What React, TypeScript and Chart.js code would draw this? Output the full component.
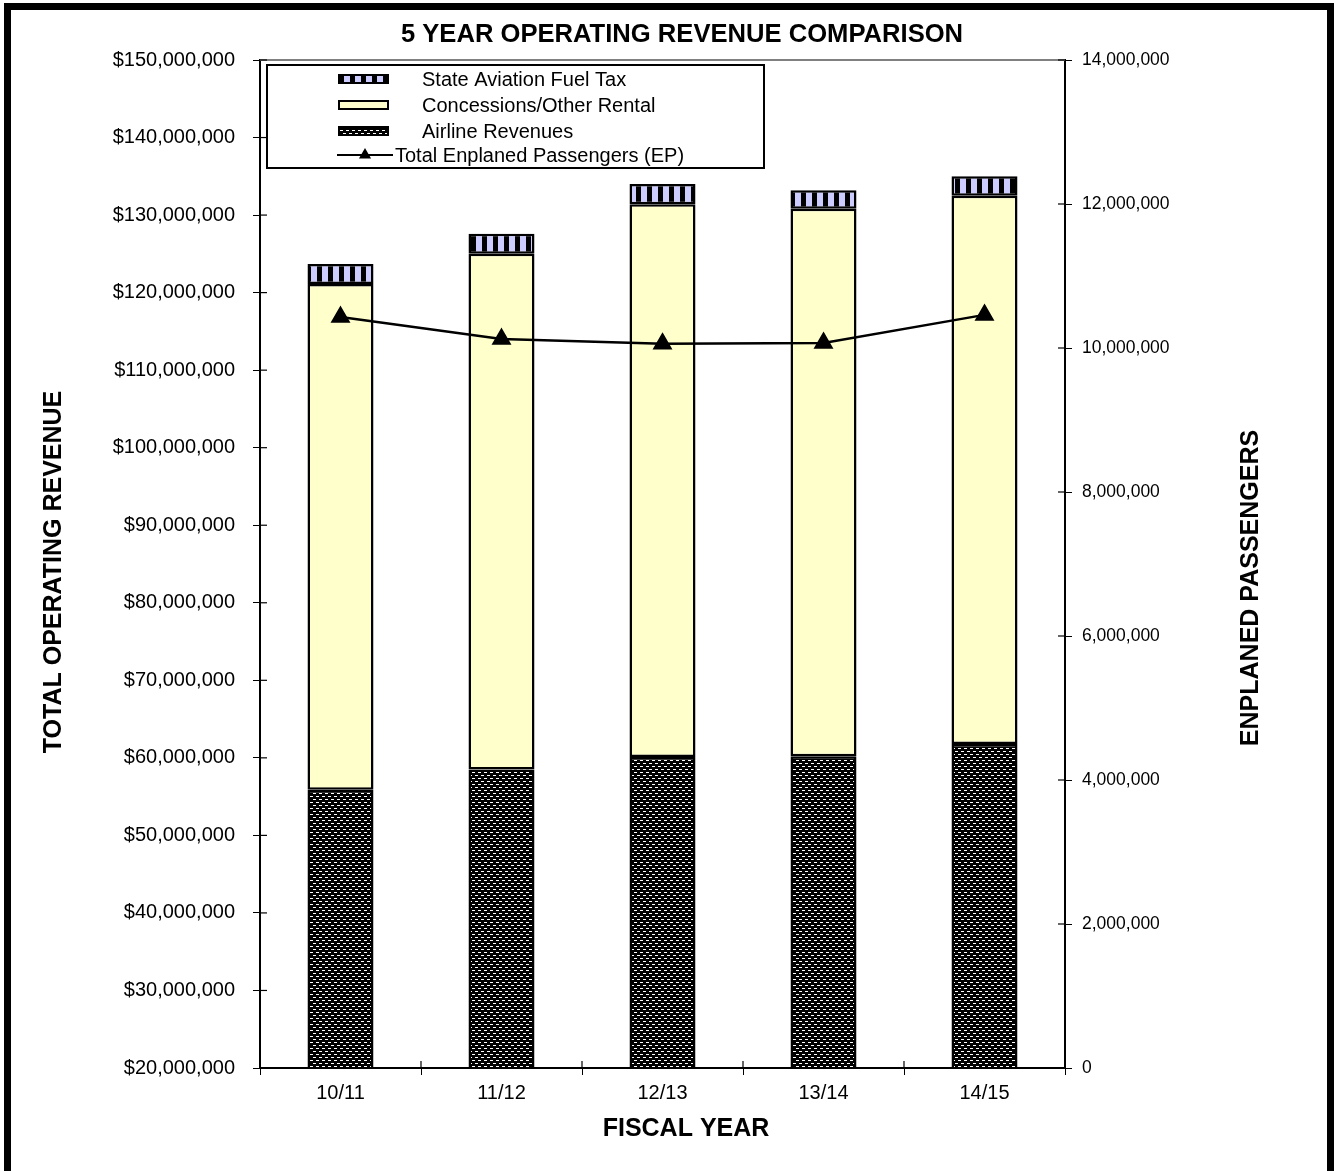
import React, { useEffect, useRef } from 'react';
import { Chart, registerables } from 'chart.js';

Chart.register(...registerables);

// ---------- data ----------
const categories = ['10/11', '11/12', '12/13', '13/14', '14/15'];
const airlineRevenues = [55900000, 58500000, 60100000, 60200000, 61800000];
const concessionsRental = [65200000, 66500000, 71300000, 70600000, 70700000];
const fuelTax = [2600000, 2600000, 2600000, 2400000, 2500000];
const enplanedPassengers = [10430000, 10125000, 10060000, 10070000, 10460000];

const seriesLabels = [
  'State Aviation Fuel Tax',
  'Concessions/Other Rental',
  'Airline Revenues',
  'Total Enplaned Passengers (EP)',
];
const chartTitle = '5 YEAR OPERATING REVENUE COMPARISON';
const leftAxisTitle = 'TOTAL OPERATING REVENUE';
const rightAxisTitle = 'ENPLANED PASSENGERS';
const xAxisTitle = 'FISCAL YEAR';

const revenueMin = 20000000;
const revenueMax = 150000000;
const revenueStep = 10000000;
const passengerMin = 0;
const passengerMax = 14000000;
const passengerStep = 2000000;

const FONT = "'Liberation Sans', Arial, Helvetica, sans-serif";

function makeStripePattern(): CanvasPattern {
  const c = document.createElement('canvas');
  c.width = 11;
  c.height = 4;
  const g = c.getContext('2d')!;
  g.fillStyle = '#000';
  g.fillRect(0, 0, 11, 4);
  g.fillStyle = '#CCCCFF';
  g.fillRect(3, 0, 6, 4);
  return g.createPattern(c, 'repeat')!;
}

function makeBrickPattern(): CanvasPattern {
  const c = document.createElement('canvas');
  c.width = 6;
  c.height = 6;
  const g = c.getContext('2d')!;
  g.fillStyle = '#000';
  g.fillRect(0, 0, 6, 6);
  g.fillStyle = '#fff';
  g.fillRect(1, 1, 3, 1);
  g.fillRect(4, 4, 2, 1);
  g.fillRect(0, 4, 1, 1);
  return g.createPattern(c, 'repeat')!;
}

const fmtMoney = (v: number) => '$' + Math.round(v).toLocaleString('en-US');
const fmtNum = (v: number) => Math.round(v).toLocaleString('en-US');

function drawTriangle(ctx: CanvasRenderingContext2D, x: number, y: number, r: number) {
  ctx.beginPath();
  ctx.moveTo(x, y - r);
  ctx.lineTo(x + Math.sin((2 * Math.PI) / 3) * r, y + r / 2);
  ctx.lineTo(x - Math.sin((2 * Math.PI) / 3) * r, y + r / 2);
  ctx.closePath();
  ctx.fill();
}

const decorPlugin = {
  id: 'decor',
  beforeDraw(chart: any) {
    const { ctx, width, height } = chart;
    ctx.save();
    ctx.fillStyle = '#fff';
    ctx.fillRect(0, 0, width, height);
    ctx.fillStyle = '#000';
    ctx.fillRect(4, 3, 7, height - 3);
    ctx.fillRect(4, 3, width - 4, 7);
    ctx.fillRect(width - 7, 3, 7, height - 3);
    ctx.restore();
  },
  afterDraw(chart: any) {
    const { ctx, chartArea } = chart;
    const { left, right, top, bottom } = chartArea;
    ctx.save();

    // top border of plot area
    ctx.strokeStyle = '#808080';
    ctx.lineWidth = 2;
    ctx.beginPath();
    ctx.moveTo(left, top);
    ctx.lineTo(right, top);
    ctx.stroke();

    // inner halves of tick marks
    ctx.strokeStyle = '#000';
    ctx.lineWidth = 1.2;
    const ys = chart.scales.y;
    ys.ticks.forEach((_: any, i: number) => {
      const py = ys.getPixelForTick(i);
      ctx.beginPath();
      ctx.moveTo(left, py);
      ctx.lineTo(left + 7, py);
      ctx.stroke();
    });
    const y1 = chart.scales.y1;
    y1.ticks.forEach((_: any, i: number) => {
      const py = y1.getPixelForTick(i);
      ctx.beginPath();
      ctx.moveTo(right - 7, py);
      ctx.lineTo(right, py);
      ctx.stroke();
    });
    const n = categories.length;
    for (let i = 0; i <= n; i++) {
      const px = left + ((right - left) * i) / n;
      ctx.beginPath();
      ctx.moveTo(px, bottom - 7);
      ctx.lineTo(px, bottom);
      ctx.stroke();
    }

    // titles
    ctx.fillStyle = '#000';
    ctx.textAlign = 'center';
    ctx.textBaseline = 'middle';
    ctx.font = `bold 25.6px ${FONT}`;
    ctx.fillText(chartTitle, 682, top - 25);
    ctx.font = `bold 25px ${FONT}`;
    ctx.fillText(xAxisTitle, 686, bottom + 61);

    ctx.save();
    ctx.translate(54, (top + bottom) / 2 + 8);
    ctx.rotate(-Math.PI / 2);
    ctx.fillText(leftAxisTitle, 0, 0);
    ctx.restore();

    ctx.save();
    ctx.translate(1251, (top + bottom) / 2 + 24);
    ctx.rotate(-Math.PI / 2);
    ctx.fillText(rightAxisTitle, 0, 0);
    ctx.restore();

    // legend box (inside plot area)
    const lx = left + 7;
    const ly = top + 5;
    const lw = 497;
    const lh = 103;
    ctx.fillStyle = '#fff';
    ctx.fillRect(lx, ly, lw, lh);
    ctx.strokeStyle = '#000';
    ctx.lineWidth = 2;
    ctx.strokeRect(lx, ly, lw, lh);

    const ds = chart.data.datasets;
    const barOrder = [2, 1, 0]; // fuel, concessions, airline
    const rowY = [ly + 14, ly + 40, ly + 66, ly + 90];
    ctx.font = `20px ${FONT}`;
    ctx.textAlign = 'left';
    ctx.textBaseline = 'middle';
    barOrder.forEach((di, row) => {
      const d = ds[di];
      const cy = rowY[row];
      ctx.fillStyle = d.backgroundColor;
      ctx.fillRect(lx + 72, cy - 4, 49, 8);
      ctx.strokeStyle = '#000';
      ctx.lineWidth = 2;
      ctx.strokeRect(lx + 72, cy - 4, 49, 8);
      ctx.fillStyle = '#000';
      ctx.fillText(d.label, lx + 155, cy + 1);
    });
    const lineDs = ds[3];
    const cy = rowY[3];
    ctx.strokeStyle = '#000';
    ctx.lineWidth = 2;
    ctx.beginPath();
    ctx.moveTo(lx + 70, cy);
    ctx.lineTo(lx + 126, cy);
    ctx.stroke();
    ctx.fillStyle = '#000';
    drawTriangle(ctx, lx + 98, cy, 7);
    ctx.fillText(lineDs.label, lx + 128, cy + 1);

    ctx.restore();
  },
};

export default function App() {
  const canvasRef = useRef<HTMLCanvasElement | null>(null);

  useEffect(() => {
    const canvas = canvasRef.current;
    if (!canvas) return;
    const stripe = makeStripePattern();
    const brick = makeBrickPattern();

    const chart = new Chart(canvas, {
      type: 'bar',
      data: {
        labels: categories,
        datasets: [
          {
            type: 'bar',
            label: seriesLabels[2],
            data: airlineRevenues,
            backgroundColor: brick as any,
            borderColor: '#000',
            borderWidth: 2.5,
            borderSkipped: false,
            yAxisID: 'y',
            stack: 'rev',
            order: 1,
          },
          {
            type: 'bar',
            label: seriesLabels[1],
            data: concessionsRental,
            backgroundColor: '#FFFFCC',
            borderColor: '#000',
            borderWidth: 2.5,
            borderSkipped: false,
            yAxisID: 'y',
            stack: 'rev',
            order: 1,
          },
          {
            type: 'bar',
            label: seriesLabels[0],
            data: fuelTax,
            backgroundColor: stripe as any,
            borderColor: '#000',
            borderWidth: 2.5,
            borderSkipped: false,
            yAxisID: 'y',
            stack: 'rev',
            order: 1,
          },
          {
            type: 'line',
            label: seriesLabels[3],
            data: enplanedPassengers,
            borderColor: '#000',
            borderWidth: 2.5,
            backgroundColor: '#000',
            pointStyle: 'triangle',
            pointRadius: 9,
            pointBackgroundColor: '#000',
            pointBorderColor: '#000',
            tension: 0,
            fill: false,
            yAxisID: 'y1',
            order: 0,
          } as any,
        ],
      },
      options: {
        animation: false,
        responsive: true,
        maintainAspectRatio: false,
        layout: { padding: { top: 60, left: 0, right: 0, bottom: 0 } },
        plugins: {
          legend: { display: false },
          title: { display: false },
          tooltip: { enabled: false },
        },
        datasets: {
          bar: { barPercentage: 0.41, categoryPercentage: 1 },
        },
        scales: {
          x: {
            stacked: true,
            grid: {
              display: true,
              drawOnChartArea: false,
              drawTicks: true,
              tickLength: 7,
              color: '#000',
              offset: true,
            },
            border: { display: true, color: '#000', width: 2 },
            ticks: {
              color: '#000',
              font: { family: FONT, size: 20 },
              padding: 6,
              maxRotation: 0,
            },
            afterFit: (scale: any) => {
              scale.height = 103;
            },
          },
          y: {
            type: 'linear',
            position: 'left',
            stacked: true,
            min: revenueMin,
            max: revenueMax,
            grid: {
              display: true,
              drawOnChartArea: false,
              drawTicks: true,
              tickLength: 7,
              color: '#000',
            },
            border: { display: true, color: '#000', width: 2 },
            ticks: {
              stepSize: revenueStep,
              color: '#000',
              font: { family: FONT, size: 20 },
              padding: 18,
              callback: (v: any) => fmtMoney(Number(v)),
            },
            afterFit: (scale: any) => {
              scale.width = 260;
            },
          },
          y1: {
            type: 'linear',
            position: 'right',
            min: passengerMin,
            max: passengerMax,
            grid: {
              display: true,
              drawOnChartArea: false,
              drawTicks: true,
              tickLength: 7,
              color: '#000',
            },
            border: { display: true, color: '#000', width: 2 },
            ticks: {
              stepSize: passengerStep,
              color: '#000',
              font: { family: FONT, size: 17.5 },
              padding: 10,
              callback: (v: any) => fmtNum(Number(v)),
            },
            afterFit: (scale: any) => {
              scale.width = 269;
            },
          },
        },
      } as any,
      plugins: [decorPlugin as any],
    });

    return () => {
      chart.destroy();
    };
  }, []);

  return (
    <div
      style={{
        position: 'absolute',
        left: 0,
        top: 0,
        width: 1334,
        height: 1171,
        background: '#fff',
      }}
    >
      <canvas ref={canvasRef} />
    </div>
  );
}
